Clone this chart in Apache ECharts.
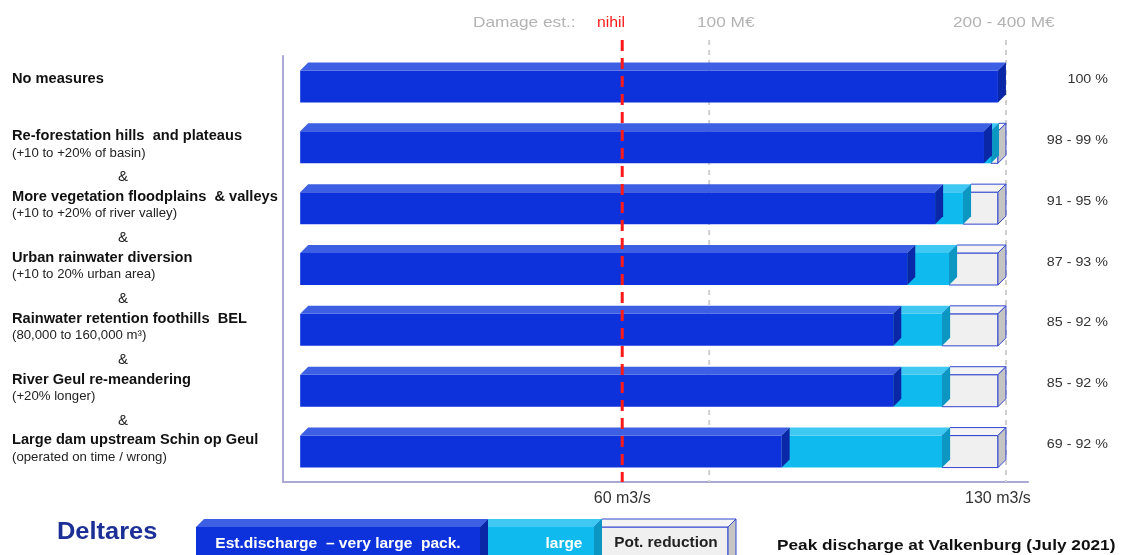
<!DOCTYPE html>
<html>
<head>
<meta charset="utf-8">
<script src="https://cdn.jsdelivr.net/npm/echarts@6/dist/echarts.min.js"></script>
<style>
html, body { margin: 0; padding: 0; background: #fff; }
#main { width: 1121px; height: 555px; }
</style>
</head>
<body>
<div id="main"></div>
<script>
// measures (top to bottom)
var categories = ['No measures', 'Re-forestation hills  and plateaus', 'More vegetation floodplains  & valleys',
	'Urban rainwater diversion', 'Rainwater retention foothills  BEL', 'River Geul re-meandering',
	'Large dam upstream Schin op Geul'];
var subtitles = ['', '(+10 to +20% of basin)', '(+10 to +20% of river valley)', '(+10 to 20% urban area)',
	'(80,000 to 160,000 m\u00b3)', '(+20% longer)', '(operated on time / wrong)'];
var rangeLabels = ['100 %', '98 - 99 %', '91 - 95 %', '87 - 93 %', '85 - 92 %', '85 - 92 %', '69 - 92 %'];

// peak discharge parts, m3/s
var veryLarge = [130, 127.4, 118.3, 113.1, 110.5, 110.5, 89.7];
var large = [0, 1.3, 5.2, 7.8, 9.1, 9.1, 29.9];
var potReduction = [0, 1.3, 6.5, 9.1, 10.4, 10.4, 10.4];

var axisValues = [60, 130];
var nihilLine = [60];
var damageLines = [76.2, 131.5];

var FONT = 'Liberation Sans, Arial, sans-serif';
var BAR_H = 32, DEPTH = 8;

var palette = {
	veryLarge: { front: '#0d32dc', top: '#3c5fe4', side: '#0a27a8', stroke: null },
	large: { front: '#0fbbee', top: '#3fc9f2', side: '#0b97c2', stroke: null },
	pot: { front: '#f0f0f0', top: '#f4f4f4', side: '#c4c4c4', stroke: '#3346cf' }
};

function box3d(x0, x1, y0, h, c) {
	var d = DEPTH, y1 = y0 + h;
	var st = c.stroke ? { stroke: c.stroke, lineWidth: 1 } : {};
	return [
		{ type: 'rect', shape: { x: x0, y: y0, width: x1 - x0, height: h }, style: Object.assign({ fill: c.front }, st) },
		{ type: 'polygon', shape: { points: [[x0, y0], [x0 + d, y0 - d], [x1 + d, y0 - d], [x1, y0]] }, style: Object.assign({ fill: c.top }, st) },
		{ type: 'polygon', shape: { points: [[x1, y0], [x1 + d, y0 - d], [x1 + d, y1 - d], [x1, y1]] }, style: Object.assign({ fill: c.side }, st) }
	];
}

function barRender(c) {
	return function (params, api) {
		var i = api.value(0), s = api.value(1), e = api.value(2);
		if (e - s <= 0) return;
		var p0 = api.coord([s, i]), p1 = api.coord([e, i]);
		return { type: 'group', children: box3d(p0[0], p1[0], p0[1] - BAR_H / 2, BAR_H, c) };
	};
}

var dVery = [], dLarge = [], dPot = [];
for (var i = 0; i < categories.length; i++) {
	var a = veryLarge[i], b = a + large[i], c = b + potReduction[i];
	dVery.push([i, 0, a]);
	dLarge.push([i, a, b]);
	dPot.push([i, b, c]);
}

function refLineRender(color, width, dash) {
	return function (params, api) {
		var x = api.coord([api.value(0), 0])[0];
		return { type: 'line', shape: { x1: x, y1: 40, x2: x, y2: 482 }, style: { stroke: color, lineWidth: width, lineDash: dash } };
	};
}

function txt(x, y, text, fill, font, sx, align) {
	return { type: 'text', x: x, y: y, scaleX: sx || 1,
		style: { text: text, fill: fill, font: font, textAlign: align || 'left', textVerticalAlign: 'middle' } };
}

var myChart = echarts.init(document.getElementById('main'));
var option = {
	animation: false,
	grid: { left: 283, right: 93, top: 56, bottom: 73 },
	xAxis: {
		type: 'value',
		min: -3.2,
		max: 135.6,
		splitLine: { show: false },
		axisTick: { show: false },
		axisLine: { show: true, onZero: false, lineStyle: { color: '#a9a9d4', width: 2 } },
		axisLabel: {
			customValues: axisValues,
			formatter: function (v) { return v + ' m3/s'; },
			color: '#333', fontSize: 16, fontFamily: FONT, margin: 9
		}
	},
	yAxis: {
		type: 'category',
		inverse: true,
		data: categories,
		axisTick: { show: false },
		axisLabel: { show: false },
		axisLine: { show: true, onZero: false, lineStyle: { color: '#a9a9d4', width: 2 } }
	},
	series: [{
		type: 'custom', z: 1, encode: { x: 0 },
		renderItem: refLineRender('#cfcfcf', 2, [5, 5]),
		data: damageLines.map(function (v) { return [v, 0]; })
	}, {
		type: 'custom', z: 2, encode: { x: [1, 2], y: 0 },
		renderItem: barRender(palette.pot), data: dPot
	}, {
		type: 'custom', z: 2, encode: { x: [1, 2], y: 0 },
		renderItem: barRender(palette.large), data: dLarge
	}, {
		type: 'custom', z: 2, encode: { x: [1, 2], y: 0 },
		renderItem: barRender(palette.veryLarge), data: dVery
	}, {
		type: 'custom', z: 3, encode: { x: 0 },
		renderItem: refLineRender('#ff1a1a', 3, [11, 7]),
		data: nihilLine.map(function (v) { return [v, 0]; })
	}, {
		// row texts: measure names, subtitles, "&" and ranges
		type: 'custom', z: 4, encode: { x: 0, y: 1 },
		renderItem: function (params, api) {
			var i = api.value(1);
			var cy = api.coord([0, i])[1];
			var kids = [];
			kids.push(txt(12, subtitles[i] ? cy - 11 : cy - 7, categories[i], '#111', 'bold 14px ' + FONT, 1.045));
			if (subtitles[i]) {
				kids.push(txt(12, cy + 6, subtitles[i], '#222', '12px ' + FONT, 1.1));
			}
			if (i > 0 && i < categories.length - 1) {
				kids.push(txt(123, cy + 30, '&', '#222', '15px ' + FONT, 1, 'center'));
			}
			kids.push(txt(1108, cy - 7, rangeLabels[i], '#333', '13px ' + FONT, 1.1, 'right'));
			return { type: 'group', children: kids };
		},
		data: categories.map(function (n, i) { return [0, i]; })
	}],
	graphic: [
		{ type: 'group', children: [
			txt(473, 23, 'Damage est.:', '#b3b3b3', '15px ' + FONT, 1.15),
			txt(597, 23, 'nihil', '#ff1a1a', '15px ' + FONT, 1.05),
			txt(697, 23, '100 M\u20ac', '#b3b3b3', '15px ' + FONT, 1.15),
			txt(953, 23, '200 - 400 M\u20ac', '#b3b3b3', '15px ' + FONT, 1.15),
			txt(57, 532, 'Deltares', '#1b2f96', 'bold 24px ' + FONT, 1.06),
			txt(777, 546, 'Peak discharge at Valkenburg (July 2021)', '#111', 'bold 15px ' + FONT, 1.15)
		] },
		{ type: 'group', children: box3d(594, 728, 527, 36, palette.pot)
			.concat(box3d(480, 594, 527, 36, palette.large))
			.concat(box3d(196, 480, 527, 36, palette.veryLarge))
			.concat([
				txt(338, 544, 'Est.discharge  \u2013 very large  pack.', '#fff', 'bold 14px ' + FONT, 1.11, 'center'),
				txt(564, 544, 'large', '#fff', 'bold 14px ' + FONT, 1.1, 'center'),
				txt(666, 543, 'Pot. reduction', '#222', 'bold 14px ' + FONT, 1.1, 'center')
			]) }
	]
};
myChart.setOption(option);
</script>
</body>
</html>
